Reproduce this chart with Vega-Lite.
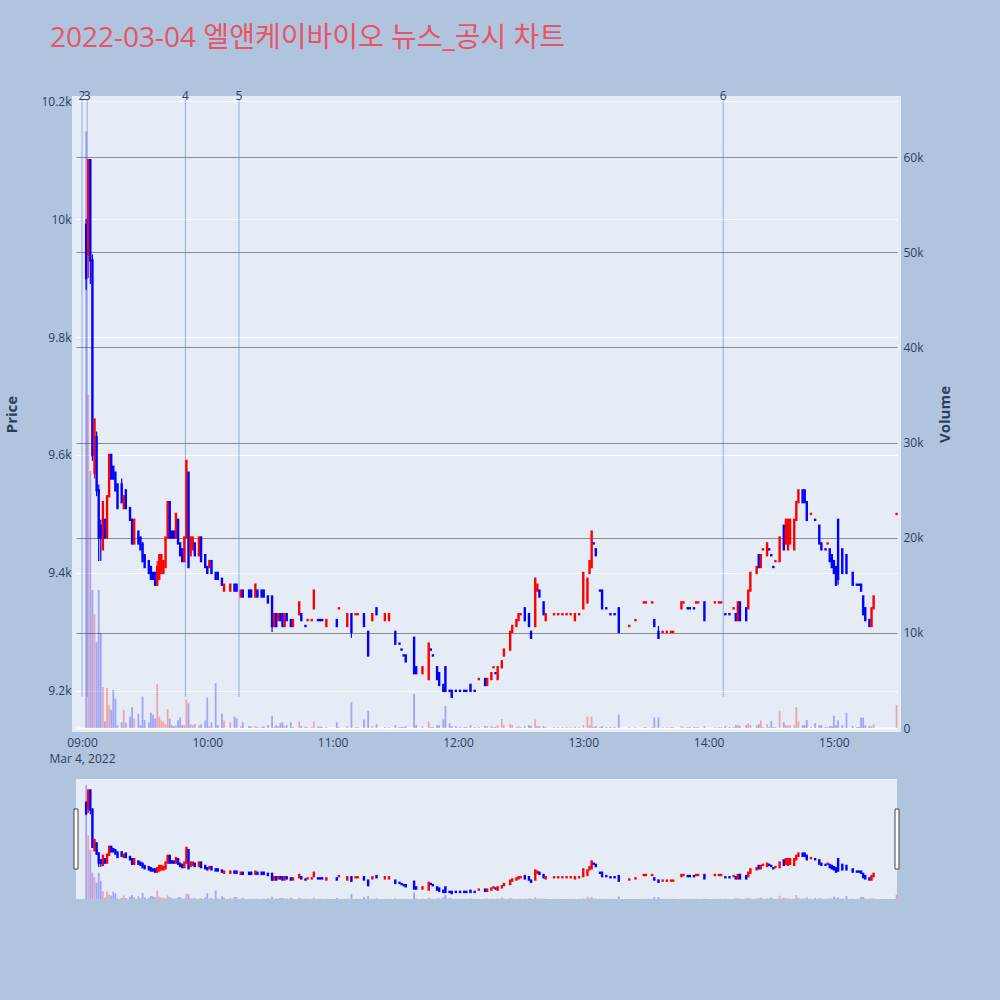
{
"$schema":"https://vega.github.io/schema/vega-lite/v6.json",
"background":"#b0c4de",
"padding":{"left":0,"top":21,"right":50,"bottom":102},
"spacing":11,
"config":{"font":"Open Sans","view":{"stroke":null},
"axis":{"labelFont":"Open Sans","labelFontSize":12,"labelColor":"#2a3f5f","titleFont":"Open Sans","titleFontSize":15,"titleFontWeight":"bold","titleColor":"#2a3f5f","domain":false,"ticks":false,"tickSize":0}},
"datasets":{
"news":[{"t":"2022-03-04T09:00:00","n":"2"},{"t":"2022-03-04T09:02:30","n":"3"},{"t":"2022-03-04T09:49:30","n":"4"},{"t":"2022-03-04T10:15:10","n":"5"},{"t":"2022-03-04T14:07:00","n":"6"}],
"k":[
{"t":"2022-03-04T09:02","d":"d","o":9990,"h":10000,"l":9880,"c":9900,"v":62700},
{"t":"2022-03-04T09:03","d":"u","o":9940,"h":10100,"l":9900,"c":10100,"v":35000},
{"t":"2022-03-04T09:04","d":"d","o":10100,"h":10100,"l":9890,"c":9930,"v":27000},
{"t":"2022-03-04T09:05","d":"d","o":9930,"h":9940,"l":9590,"c":9600,"v":14500},
{"t":"2022-03-04T09:06","d":"u","o":9570,"h":9660,"l":9560,"c":9660,"v":12000},
{"t":"2022-03-04T09:07","d":"d","o":9630,"h":9640,"l":9530,"c":9540,"v":9000},
{"t":"2022-03-04T09:08","d":"d","o":9540,"h":9550,"l":9420,"c":9460,"v":14500},
{"t":"2022-03-04T09:09","d":"d","o":9480,"h":9490,"l":9420,"c":9460,"v":10000},
{"t":"2022-03-04T09:10","d":"u","o":9440,"h":9520,"l":9440,"c":9520,"v":4300},
{"t":"2022-03-04T09:11","d":"d","o":9490,"h":9490,"l":9460,"c":9460,"v":700},
{"t":"2022-03-04T09:12","d":"u","o":9460,"h":9530,"l":9460,"c":9530,"v":4200},
{"t":"2022-03-04T09:13","d":"u","o":9530,"h":9600,"l":9530,"c":9600,"v":2400},
{"t":"2022-03-04T09:14","d":"d","o":9600,"h":9600,"l":9560,"c":9560,"v":1900},
{"t":"2022-03-04T09:15","d":"d","o":9580,"h":9580,"l":9560,"c":9560,"v":4000},
{"t":"2022-03-04T09:16","d":"d","o":9570,"h":9570,"l":9540,"c":9540,"v":3100},
{"t":"2022-03-04T09:17","d":"d","o":9550,"h":9550,"l":9510,"c":9510,"v":300},
{"t":"2022-03-04T09:19","d":"d","o":9550,"h":9560,"l":9520,"c":9520,"v":600},
{"t":"2022-03-04T09:20","d":"u","o":9510,"h":9530,"l":9510,"c":9530,"v":1900},
{"t":"2022-03-04T09:21","d":"d","o":9540,"h":9540,"l":9510,"c":9510,"v":560},
{"t":"2022-03-04T09:23","d":"d","o":9510,"h":9510,"l":9490,"c":9490,"v":1200},
{"t":"2022-03-04T09:24","d":"d","o":9490,"h":9490,"l":9450,"c":9450,"v":2200},
{"t":"2022-03-04T09:25","d":"u","o":9450,"h":9490,"l":9450,"c":9490,"v":1000},
{"t":"2022-03-04T09:27","d":"d","o":9470,"h":9470,"l":9450,"c":9450,"v":1500},
{"t":"2022-03-04T09:28","d":"d","o":9460,"h":9460,"l":9440,"c":9440,"v":300},
{"t":"2022-03-04T09:29","d":"d","o":9450,"h":9450,"l":9420,"c":9420,"v":3300},
{"t":"2022-03-04T09:30","d":"d","o":9430,"h":9430,"l":9410,"c":9410,"v":840},
{"t":"2022-03-04T09:32","d":"d","o":9420,"h":9420,"l":9400,"c":9400,"v":600},
{"t":"2022-03-04T09:33","d":"d","o":9410,"h":9410,"l":9390,"c":9390,"v":1600},
{"t":"2022-03-04T09:34","d":"d","o":9400,"h":9400,"l":9390,"c":9390,"v":1400},
{"t":"2022-03-04T09:35","d":"d","o":9400,"h":9400,"l":9380,"c":9380,"v":1000},
{"t":"2022-03-04T09:36","d":"u","o":9380,"h":9420,"l":9380,"c":9410,"v":4600},
{"t":"2022-03-04T09:37","d":"u","o":9390,"h":9430,"l":9390,"c":9430,"v":1200},
{"t":"2022-03-04T09:38","d":"u","o":9400,"h":9430,"l":9400,"c":9430,"v":800},
{"t":"2022-03-04T09:39","d":"u","o":9400,"h":9420,"l":9400,"c":9420,"v":700},
{"t":"2022-03-04T09:40","d":"u","o":9410,"h":9460,"l":9410,"c":9460,"v":400},
{"t":"2022-03-04T09:41","d":"u","o":9460,"h":9520,"l":9460,"c":9520,"v":2000},
{"t":"2022-03-04T09:42","d":"d","o":9520,"h":9520,"l":9460,"c":9460,"v":1000},
{"t":"2022-03-04T09:43","d":"d","o":9470,"h":9470,"l":9460,"c":9460,"v":300},
{"t":"2022-03-04T09:44","d":"d","o":9470,"h":9470,"l":9460,"c":9460,"v":200},
{"t":"2022-03-04T09:45","d":"u","o":9460,"h":9500,"l":9460,"c":9500,"v":300},
{"t":"2022-03-04T09:46","d":"d","o":9490,"h":9490,"l":9450,"c":9450,"v":800},
{"t":"2022-03-04T09:47","d":"d","o":9450,"h":9450,"l":9430,"c":9430,"v":1100},
{"t":"2022-03-04T09:48","d":"d","o":9440,"h":9440,"l":9420,"c":9420,"v":300},
{"t":"2022-03-04T09:49","d":"u","o":9420,"h":9460,"l":9420,"c":9460,"v":300},
{"t":"2022-03-04T09:50","d":"u","o":9460,"h":9590,"l":9460,"c":9590,"v":3000},
{"t":"2022-03-04T09:51","d":"d","o":9570,"h":9570,"l":9410,"c":9410,"v":2600},
{"t":"2022-03-04T09:52","d":"u","o":9430,"h":9460,"l":9430,"c":9460,"v":400},
{"t":"2022-03-04T09:53","d":"u","o":9440,"h":9460,"l":9440,"c":9460,"v":300},
{"t":"2022-03-04T09:54","d":"d","o":9450,"h":9450,"l":9430,"c":9430,"v":400},
{"t":"2022-03-04T09:56","d":"u","o":9430,"h":9460,"l":9430,"c":9460,"v":300},
{"t":"2022-03-04T09:57","d":"d","o":9460,"h":9460,"l":9420,"c":9420,"v":400},
{"t":"2022-03-04T09:59","d":"d","o":9430,"h":9430,"l":9410,"c":9410,"v":800},
{"t":"2022-03-04T10:00","d":"d","o":9410,"h":9410,"l":9400,"c":9400,"v":3200},
{"t":"2022-03-04T10:01","d":"u","o":9410,"h":9420,"l":9410,"c":9420,"v":200},
{"t":"2022-03-04T10:02","d":"d","o":9420,"h":9420,"l":9400,"c":9400,"v":600},
{"t":"2022-03-04T10:04","d":"d","o":9400,"h":9400,"l":9390,"c":9390,"v":4700},
{"t":"2022-03-04T10:05","d":"d","o":9400,"h":9400,"l":9390,"c":9390,"v":300},
{"t":"2022-03-04T10:07","d":"d","o":9390,"h":9390,"l":9380,"c":9380,"v":1500},
{"t":"2022-03-04T10:08","d":"u","o":9370,"h":9380,"l":9370,"c":9380,"v":800},
{"t":"2022-03-04T10:11","d":"u","o":9370,"h":9380,"l":9370,"c":9380,"v":600},
{"t":"2022-03-04T10:13","d":"d","o":9380,"h":9380,"l":9370,"c":9370,"v":1200},
{"t":"2022-03-04T10:14","d":"d","o":9380,"h":9380,"l":9370,"c":9370,"v":1000},
{"t":"2022-03-04T10:16","d":"u","o":9360,"h":9370,"l":9360,"c":9370,"v":200},
{"t":"2022-03-04T10:17","d":"d","o":9370,"h":9370,"l":9360,"c":9360,"v":600},
{"t":"2022-03-04T10:20","d":"d","o":9370,"h":9370,"l":9360,"c":9360,"v":200},
{"t":"2022-03-04T10:21","d":"d","o":9370,"h":9370,"l":9360,"c":9360,"v":150},
{"t":"2022-03-04T10:23","d":"u","o":9360,"h":9380,"l":9360,"c":9380,"v":200},
{"t":"2022-03-04T10:24","d":"d","o":9370,"h":9370,"l":9360,"c":9360,"v":100},
{"t":"2022-03-04T10:26","d":"d","o":9370,"h":9370,"l":9360,"c":9360,"v":100},
{"t":"2022-03-04T10:27","d":"d","o":9370,"h":9370,"l":9360,"c":9360,"v":200},
{"t":"2022-03-04T10:29","d":"d","o":9360,"h":9360,"l":9350,"c":9350,"v":300},
{"t":"2022-03-04T10:31","d":"d","o":9360,"h":9360,"l":9300,"c":9310,"v":1300},
{"t":"2022-03-04T10:32","d":"u","o":9310,"h":9330,"l":9310,"c":9330,"v":100},
{"t":"2022-03-04T10:33","d":"d","o":9330,"h":9330,"l":9310,"c":9310,"v":300},
{"t":"2022-03-04T10:34","d":"u","o":9320,"h":9330,"l":9320,"c":9330,"v":200},
{"t":"2022-03-04T10:35","d":"d","o":9330,"h":9330,"l":9320,"c":9320,"v":500},
{"t":"2022-03-04T10:36","d":"d","o":9330,"h":9330,"l":9310,"c":9310,"v":600},
{"t":"2022-03-04T10:37","d":"u","o":9310,"h":9330,"l":9310,"c":9330,"v":200},
{"t":"2022-03-04T10:38","d":"d","o":9330,"h":9330,"l":9320,"c":9320,"v":300},
{"t":"2022-03-04T10:40","d":"d","o":9320,"h":9320,"l":9310,"c":9310,"v":600},
{"t":"2022-03-04T10:41","d":"u","o":9310,"h":9320,"l":9310,"c":9320,"v":100},
{"t":"2022-03-04T10:44","d":"u","o":9330,"h":9350,"l":9330,"c":9350,"v":700},
{"t":"2022-03-04T10:45","d":"d","o":9330,"h":9330,"l":9320,"c":9320,"v":200},
{"t":"2022-03-04T10:47","d":"d","o":9310,"h":9310,"l":9310,"c":9310,"v":150},
{"t":"2022-03-04T10:48","d":"u","o":9320,"h":9320,"l":9320,"c":9320,"v":100},
{"t":"2022-03-04T10:50","d":"u","o":9320,"h":9320,"l":9320,"c":9320,"v":100},
{"t":"2022-03-04T10:51","d":"u","o":9340,"h":9370,"l":9340,"c":9370,"v":700},
{"t":"2022-03-04T10:53","d":"d","o":9320,"h":9320,"l":9320,"c":9320,"v":150},
{"t":"2022-03-04T10:54","d":"d","o":9320,"h":9320,"l":9320,"c":9320,"v":150},
{"t":"2022-03-04T10:55","d":"d","o":9320,"h":9320,"l":9320,"c":9320,"v":100},
{"t":"2022-03-04T10:57","d":"u","o":9310,"h":9320,"l":9310,"c":9320,"v":100},
{"t":"2022-03-04T11:02","d":"d","o":9320,"h":9320,"l":9310,"c":9310,"v":600},
{"t":"2022-03-04T11:03","d":"u","o":9340,"h":9340,"l":9340,"c":9340,"v":100},
{"t":"2022-03-04T11:07","d":"u","o":9310,"h":9330,"l":9310,"c":9330,"v":200},
{"t":"2022-03-04T11:09","d":"d","o":9330,"h":9330,"l":9290,"c":9300,"v":2700},
{"t":"2022-03-04T11:11","d":"u","o":9330,"h":9330,"l":9330,"c":9330,"v":100},
{"t":"2022-03-04T11:12","d":"u","o":9330,"h":9330,"l":9330,"c":9330,"v":100},
{"t":"2022-03-04T11:15","d":"d","o":9330,"h":9330,"l":9310,"c":9310,"v":900},
{"t":"2022-03-04T11:17","d":"d","o":9300,"h":9300,"l":9260,"c":9260,"v":1800},
{"t":"2022-03-04T11:19","d":"u","o":9320,"h":9330,"l":9320,"c":9330,"v":200},
{"t":"2022-03-04T11:21","d":"d","o":9340,"h":9340,"l":9330,"c":9330,"v":400},
{"t":"2022-03-04T11:25","d":"u","o":9320,"h":9330,"l":9320,"c":9330,"v":100},
{"t":"2022-03-04T11:27","d":"u","o":9320,"h":9330,"l":9320,"c":9330,"v":100},
{"t":"2022-03-04T11:30","d":"d","o":9300,"h":9300,"l":9280,"c":9280,"v":300},
{"t":"2022-03-04T11:32","d":"d","o":9280,"h":9280,"l":9280,"c":9280,"v":100},
{"t":"2022-03-04T11:33","d":"d","o":9270,"h":9270,"l":9270,"c":9270,"v":100},
{"t":"2022-03-04T11:34","d":"d","o":9260,"h":9260,"l":9260,"c":9260,"v":100},
{"t":"2022-03-04T11:35","d":"d","o":9260,"h":9260,"l":9250,"c":9250,"v":200},
{"t":"2022-03-04T11:39","d":"d","o":9290,"h":9290,"l":9230,"c":9230,"v":3600},
{"t":"2022-03-04T11:40","d":"d","o":9240,"h":9240,"l":9230,"c":9230,"v":300},
{"t":"2022-03-04T11:43","d":"u","o":9230,"h":9240,"l":9230,"c":9240,"v":200},
{"t":"2022-03-04T11:46","d":"u","o":9220,"h":9280,"l":9220,"c":9280,"v":700},
{"t":"2022-03-04T11:47","d":"d","o":9270,"h":9270,"l":9270,"c":9270,"v":100},
{"t":"2022-03-04T11:48","d":"d","o":9260,"h":9260,"l":9260,"c":9260,"v":100},
{"t":"2022-03-04T11:50","d":"d","o":9240,"h":9240,"l":9220,"c":9220,"v":300},
{"t":"2022-03-04T11:51","d":"d","o":9230,"h":9230,"l":9210,"c":9210,"v":300},
{"t":"2022-03-04T11:53","d":"d","o":9210,"h":9210,"l":9200,"c":9200,"v":900},
{"t":"2022-03-04T11:54","d":"d","o":9240,"h":9240,"l":9200,"c":9200,"v":2300},
{"t":"2022-03-04T11:56","d":"d","o":9200,"h":9200,"l":9200,"c":9200,"v":500},
{"t":"2022-03-04T11:57","d":"d","o":9200,"h":9200,"l":9190,"c":9190,"v":200},
{"t":"2022-03-04T11:59","d":"d","o":9200,"h":9200,"l":9200,"c":9200,"v":200},
{"t":"2022-03-04T12:01","d":"d","o":9200,"h":9200,"l":9200,"c":9200,"v":100},
{"t":"2022-03-04T12:03","d":"d","o":9200,"h":9200,"l":9200,"c":9200,"v":100},
{"t":"2022-03-04T12:04","d":"d","o":9200,"h":9200,"l":9200,"c":9200,"v":100},
{"t":"2022-03-04T12:06","d":"d","o":9210,"h":9210,"l":9200,"c":9200,"v":300},
{"t":"2022-03-04T12:08","d":"d","o":9200,"h":9200,"l":9200,"c":9200,"v":100},
{"t":"2022-03-04T12:10","d":"u","o":9220,"h":9220,"l":9220,"c":9220,"v":100},
{"t":"2022-03-04T12:13","d":"d","o":9220,"h":9220,"l":9210,"c":9210,"v":200},
{"t":"2022-03-04T12:14","d":"u","o":9210,"h":9220,"l":9210,"c":9220,"v":200},
{"t":"2022-03-04T12:16","d":"u","o":9220,"h":9230,"l":9220,"c":9230,"v":200},
{"t":"2022-03-04T12:17","d":"u","o":9240,"h":9240,"l":9240,"c":9240,"v":100},
{"t":"2022-03-04T12:18","d":"d","o":9230,"h":9230,"l":9230,"c":9230,"v":100},
{"t":"2022-03-04T12:19","d":"u","o":9220,"h":9240,"l":9220,"c":9240,"v":300},
{"t":"2022-03-04T12:21","d":"u","o":9240,"h":9250,"l":9240,"c":9250,"v":950},
{"t":"2022-03-04T12:22","d":"u","o":9260,"h":9270,"l":9260,"c":9270,"v":300},
{"t":"2022-03-04T12:25","d":"u","o":9270,"h":9300,"l":9270,"c":9300,"v":400},
{"t":"2022-03-04T12:26","d":"u","o":9300,"h":9310,"l":9300,"c":9310,"v":300},
{"t":"2022-03-04T12:28","d":"u","o":9310,"h":9320,"l":9310,"c":9320,"v":100},
{"t":"2022-03-04T12:29","d":"u","o":9320,"h":9330,"l":9320,"c":9330,"v":200},
{"t":"2022-03-04T12:30","d":"u","o":9330,"h":9330,"l":9330,"c":9330,"v":100},
{"t":"2022-03-04T12:32","d":"d","o":9340,"h":9340,"l":9320,"c":9320,"v":200},
{"t":"2022-03-04T12:34","d":"d","o":9330,"h":9330,"l":9310,"c":9310,"v":300},
{"t":"2022-03-04T12:35","d":"d","o":9300,"h":9300,"l":9290,"c":9290,"v":200},
{"t":"2022-03-04T12:37","d":"u","o":9310,"h":9390,"l":9310,"c":9390,"v":900},
{"t":"2022-03-04T12:38","d":"u","o":9370,"h":9380,"l":9370,"c":9380,"v":200},
{"t":"2022-03-04T12:39","d":"d","o":9370,"h":9370,"l":9360,"c":9360,"v":200},
{"t":"2022-03-04T12:41","d":"d","o":9350,"h":9350,"l":9330,"c":9330,"v":200},
{"t":"2022-03-04T12:42","d":"u","o":9320,"h":9330,"l":9320,"c":9330,"v":100},
{"t":"2022-03-04T12:46","d":"u","o":9330,"h":9330,"l":9330,"c":9330,"v":100},
{"t":"2022-03-04T12:48","d":"u","o":9330,"h":9330,"l":9330,"c":9330,"v":100},
{"t":"2022-03-04T12:50","d":"u","o":9330,"h":9330,"l":9330,"c":9330,"v":100},
{"t":"2022-03-04T12:52","d":"u","o":9330,"h":9330,"l":9330,"c":9330,"v":100},
{"t":"2022-03-04T12:54","d":"u","o":9330,"h":9330,"l":9330,"c":9330,"v":100},
{"t":"2022-03-04T12:56","d":"u","o":9320,"h":9330,"l":9320,"c":9330,"v":150},
{"t":"2022-03-04T12:58","d":"u","o":9330,"h":9330,"l":9330,"c":9330,"v":100},
{"t":"2022-03-04T13:00","d":"u","o":9340,"h":9400,"l":9340,"c":9400,"v":300},
{"t":"2022-03-04T13:02","d":"u","o":9350,"h":9390,"l":9350,"c":9390,"v":1200},
{"t":"2022-03-04T13:03","d":"u","o":9400,"h":9420,"l":9400,"c":9420,"v":300},
{"t":"2022-03-04T13:04","d":"u","o":9410,"h":9470,"l":9410,"c":9470,"v":1200},
{"t":"2022-03-04T13:05","d":"d","o":9450,"h":9450,"l":9450,"c":9450,"v":100},
{"t":"2022-03-04T13:06","d":"d","o":9440,"h":9440,"l":9430,"c":9430,"v":200},
{"t":"2022-03-04T13:08","d":"d","o":9370,"h":9370,"l":9370,"c":9370,"v":100},
{"t":"2022-03-04T13:09","d":"d","o":9370,"h":9370,"l":9340,"c":9340,"v":200},
{"t":"2022-03-04T13:11","d":"d","o":9340,"h":9340,"l":9340,"c":9340,"v":100},
{"t":"2022-03-04T13:13","d":"d","o":9330,"h":9330,"l":9330,"c":9330,"v":100},
{"t":"2022-03-04T13:15","d":"d","o":9330,"h":9330,"l":9330,"c":9330,"v":100},
{"t":"2022-03-04T13:17","d":"d","o":9340,"h":9340,"l":9300,"c":9300,"v":1400},
{"t":"2022-03-04T13:22","d":"u","o":9310,"h":9310,"l":9310,"c":9310,"v":100},
{"t":"2022-03-04T13:25","d":"u","o":9320,"h":9320,"l":9320,"c":9320,"v":100},
{"t":"2022-03-04T13:29","d":"u","o":9350,"h":9350,"l":9350,"c":9350,"v":100},
{"t":"2022-03-04T13:30","d":"u","o":9350,"h":9350,"l":9350,"c":9350,"v":100},
{"t":"2022-03-04T13:33","d":"u","o":9350,"h":9350,"l":9350,"c":9350,"v":100},
{"t":"2022-03-04T13:34","d":"d","o":9320,"h":9320,"l":9310,"c":9310,"v":1100},
{"t":"2022-03-04T13:36","d":"d","o":9300,"h":9310,"l":9290,"c":9290,"v":1100},
{"t":"2022-03-04T13:38","d":"u","o":9300,"h":9300,"l":9300,"c":9300,"v":100},
{"t":"2022-03-04T13:40","d":"u","o":9300,"h":9300,"l":9300,"c":9300,"v":100},
{"t":"2022-03-04T13:42","d":"u","o":9300,"h":9300,"l":9300,"c":9300,"v":100},
{"t":"2022-03-04T13:43","d":"u","o":9300,"h":9300,"l":9300,"c":9300,"v":100},
{"t":"2022-03-04T13:47","d":"u","o":9340,"h":9350,"l":9340,"c":9350,"v":200},
{"t":"2022-03-04T13:48","d":"u","o":9350,"h":9350,"l":9350,"c":9350,"v":100},
{"t":"2022-03-04T13:50","d":"d","o":9340,"h":9340,"l":9340,"c":9340,"v":100},
{"t":"2022-03-04T13:51","d":"d","o":9340,"h":9340,"l":9340,"c":9340,"v":100},
{"t":"2022-03-04T13:53","d":"d","o":9340,"h":9340,"l":9340,"c":9340,"v":100},
{"t":"2022-03-04T13:54","d":"u","o":9350,"h":9350,"l":9350,"c":9350,"v":100},
{"t":"2022-03-04T13:55","d":"u","o":9350,"h":9350,"l":9350,"c":9350,"v":100},
{"t":"2022-03-04T13:58","d":"d","o":9350,"h":9350,"l":9320,"c":9320,"v":200},
{"t":"2022-03-04T14:03","d":"u","o":9350,"h":9350,"l":9350,"c":9350,"v":100},
{"t":"2022-03-04T14:05","d":"u","o":9350,"h":9350,"l":9350,"c":9350,"v":100},
{"t":"2022-03-04T14:06","d":"u","o":9350,"h":9350,"l":9350,"c":9350,"v":100},
{"t":"2022-03-04T14:08","d":"d","o":9330,"h":9330,"l":9330,"c":9330,"v":200},
{"t":"2022-03-04T14:10","d":"d","o":9330,"h":9330,"l":9330,"c":9330,"v":100},
{"t":"2022-03-04T14:12","d":"u","o":9340,"h":9340,"l":9340,"c":9340,"v":100},
{"t":"2022-03-04T14:13","d":"d","o":9330,"h":9330,"l":9320,"c":9320,"v":300},
{"t":"2022-03-04T14:14","d":"u","o":9320,"h":9350,"l":9320,"c":9350,"v":300},
{"t":"2022-03-04T14:15","d":"d","o":9350,"h":9350,"l":9320,"c":9320,"v":200},
{"t":"2022-03-04T14:18","d":"d","o":9340,"h":9340,"l":9320,"c":9320,"v":300},
{"t":"2022-03-04T14:19","d":"u","o":9340,"h":9370,"l":9340,"c":9370,"v":500},
{"t":"2022-03-04T14:20","d":"u","o":9370,"h":9400,"l":9370,"c":9400,"v":300},
{"t":"2022-03-04T14:23","d":"u","o":9400,"h":9410,"l":9400,"c":9410,"v":300},
{"t":"2022-03-04T14:24","d":"d","o":9430,"h":9430,"l":9410,"c":9410,"v":400},
{"t":"2022-03-04T14:25","d":"u","o":9410,"h":9430,"l":9410,"c":9430,"v":800},
{"t":"2022-03-04T14:26","d":"u","o":9440,"h":9440,"l":9440,"c":9440,"v":100},
{"t":"2022-03-04T14:28","d":"u","o":9430,"h":9450,"l":9430,"c":9450,"v":400},
{"t":"2022-03-04T14:29","d":"d","o":9440,"h":9440,"l":9440,"c":9440,"v":100},
{"t":"2022-03-04T14:30","d":"d","o":9430,"h":9430,"l":9430,"c":9430,"v":750},
{"t":"2022-03-04T14:31","d":"d","o":9410,"h":9410,"l":9410,"c":9410,"v":100},
{"t":"2022-03-04T14:32","d":"u","o":9420,"h":9420,"l":9420,"c":9420,"v":100},
{"t":"2022-03-04T14:34","d":"u","o":9420,"h":9460,"l":9420,"c":9460,"v":1800},
{"t":"2022-03-04T14:36","d":"d","o":9480,"h":9480,"l":9440,"c":9440,"v":600},
{"t":"2022-03-04T14:37","d":"u","o":9450,"h":9490,"l":9450,"c":9490,"v":300},
{"t":"2022-03-04T14:38","d":"u","o":9440,"h":9490,"l":9440,"c":9490,"v":300},
{"t":"2022-03-04T14:39","d":"u","o":9450,"h":9490,"l":9450,"c":9490,"v":300},
{"t":"2022-03-04T14:41","d":"u","o":9440,"h":9490,"l":9440,"c":9490,"v":300},
{"t":"2022-03-04T14:42","d":"u","o":9490,"h":9520,"l":9490,"c":9520,"v":2200},
{"t":"2022-03-04T14:43","d":"u","o":9520,"h":9540,"l":9520,"c":9540,"v":700},
{"t":"2022-03-04T14:45","d":"d","o":9540,"h":9540,"l":9520,"c":9520,"v":300},
{"t":"2022-03-04T14:46","d":"d","o":9540,"h":9540,"l":9520,"c":9520,"v":300},
{"t":"2022-03-04T14:47","d":"d","o":9520,"h":9520,"l":9490,"c":9490,"v":850},
{"t":"2022-03-04T14:49","d":"u","o":9500,"h":9500,"l":9500,"c":9500,"v":100},
{"t":"2022-03-04T14:51","d":"d","o":9490,"h":9490,"l":9490,"c":9490,"v":500},
{"t":"2022-03-04T14:53","d":"d","o":9480,"h":9480,"l":9450,"c":9450,"v":300},
{"t":"2022-03-04T14:54","d":"d","o":9450,"h":9450,"l":9440,"c":9440,"v":300},
{"t":"2022-03-04T14:56","d":"d","o":9440,"h":9440,"l":9440,"c":9440,"v":100},
{"t":"2022-03-04T14:57","d":"u","o":9450,"h":9450,"l":9450,"c":9450,"v":100},
{"t":"2022-03-04T14:58","d":"d","o":9440,"h":9440,"l":9420,"c":9420,"v":200},
{"t":"2022-03-04T14:59","d":"d","o":9430,"h":9430,"l":9410,"c":9410,"v":200},
{"t":"2022-03-04T15:00","d":"d","o":9420,"h":9420,"l":9400,"c":9400,"v":1300},
{"t":"2022-03-04T15:01","d":"d","o":9410,"h":9410,"l":9380,"c":9380,"v":300},
{"t":"2022-03-04T15:02","d":"d","o":9490,"h":9490,"l":9380,"c":9390,"v":800},
{"t":"2022-03-04T15:04","d":"d","o":9440,"h":9440,"l":9400,"c":9400,"v":300},
{"t":"2022-03-04T15:06","d":"d","o":9430,"h":9430,"l":9400,"c":9400,"v":1600},
{"t":"2022-03-04T15:09","d":"d","o":9400,"h":9400,"l":9380,"c":9380,"v":200},
{"t":"2022-03-04T15:11","d":"d","o":9380,"h":9380,"l":9380,"c":9380,"v":100},
{"t":"2022-03-04T15:12","d":"d","o":9380,"h":9380,"l":9380,"c":9380,"v":100},
{"t":"2022-03-04T15:13","d":"d","o":9380,"h":9380,"l":9370,"c":9370,"v":1100},
{"t":"2022-03-04T15:14","d":"d","o":9360,"h":9360,"l":9330,"c":9330,"v":1100},
{"t":"2022-03-04T15:15","d":"d","o":9340,"h":9340,"l":9320,"c":9320,"v":300},
{"t":"2022-03-04T15:17","d":"d","o":9320,"h":9320,"l":9310,"c":9310,"v":200},
{"t":"2022-03-04T15:18","d":"u","o":9310,"h":9340,"l":9310,"c":9340,"v":200},
{"t":"2022-03-04T15:19","d":"u","o":9340,"h":9360,"l":9340,"c":9360,"v":400},
{"t":"2022-03-04T15:30","d":"u","o":9500,"h":9500,"l":9500,"c":9500,"v":2400}
]},
"vconcat":[
{
"width":821,"height":628,
"view":{"fill":"#e5ecf6","stroke":"#e5ecf6","strokeWidth":8},
"title":{"text":"2022-03-04 엘앤케이바이오 뉴스_공시 차트","anchor":"start","frame":"group","dx":-26,"offset":15,"baseline":"alphabetic","fontSize":28,"font":"Open Sans, Noto Sans CJK KR","fontWeight":"normal","color":"#e85366"},
"layer":[
{"data":{"name":"k"},
 "mark":{"type":"bar","size":1.8,"opacity":0.3},
 "encoding":{
  "x":{"field":"t","type":"temporal","scale":{"padding":0,"domain":[{"year":2022,"month":3,"date":4,"hours":8,"minutes":57,"seconds":8},{"year":2022,"month":3,"date":4,"hours":15,"minutes":30,"seconds":12}]},
   "axis":{"title":null,"grid":false,"labelPadding":9,"labelLineHeight":16,"labelOverlap":false,"labelFlush":false,
   "values":[{"year":2022,"month":3,"date":4,"hours":9},{"year":2022,"month":3,"date":4,"hours":10},{"year":2022,"month":3,"date":4,"hours":11},{"year":2022,"month":3,"date":4,"hours":12},{"year":2022,"month":3,"date":4,"hours":13},{"year":2022,"month":3,"date":4,"hours":14},{"year":2022,"month":3,"date":4,"hours":15}],
   "labelExpr":"hours(datum.value) == 9 ? [timeFormat(datum.value, '%H:%M'), 'Mar 4, 2022'] : timeFormat(datum.value, '%H:%M')"}},
  "y":{"field":"v","type":"quantitative","scale":{"domain":[0,66000],"nice":false,"zero":false},
   "axis":{"orient":"right","title":"Volume","values":[0,10000,20000,30000,40000,50000,60000],"labelExpr":"datum.value == 0 ? '0' : (datum.value / 1000) + 'k'","grid":true,
    "gridColor":{"condition":{"test":"datum.value === 0","value":"#ffffff"},"value":"#8c8c8c"},
    "gridWidth":{"condition":{"test":"datum.value === 0","value":2},"value":1},
    "labelPadding":6,"minExtent":30,"maxExtent":30,"titlePadding":10,"titleAngle":270,"titleBaseline":"top"}},
  "color":{"field":"d","type":"nominal","scale":{"domain":["u","d"],"range":["#ff0000","#0000ff"]},"legend":null}
 }},
{"layer":[
 {"data":{"name":"news"},
  "mark":{"type":"rule","stroke":"#4169e1","strokeOpacity":0.5,"strokeWidth":1},
  "encoding":{"x":{"field":"t","type":"temporal"},
   "y":{"datum":9190,"type":"quantitative","scale":{"domain":[9137,10202],"nice":false,"zero":false},
    "axis":{"orient":"left","title":"Price","values":[9200,9400,9600,9800,10000,10200],"labelExpr":"(datum.value / 1000) + 'k'","grid":true,"gridColor":"#ffffff","gridWidth":1,"labelPadding":5,"minExtent":40,"maxExtent":40,"titlePadding":17}},
   "y2":{"datum":10202}}},
 {"data":{"name":"news"},
  "mark":{"type":"text","baseline":"alphabetic","fontSize":12,"font":"Open Sans","color":"#2a3f5f"},
  "encoding":{"x":{"field":"t","type":"temporal"},"y":{"datum":10202,"type":"quantitative"},"text":{"field":"n"}}},
 {"data":{"name":"k"},
  "mark":{"type":"rule","strokeWidth":1.2},
  "encoding":{"x":{"field":"t","type":"temporal"},"y":{"field":"l","type":"quantitative"},"y2":{"field":"h"},
   "color":{"field":"d","type":"nominal","scale":{"domain":["u","d"],"range":["#ff0000","#0000ff"]},"legend":null}}},
 {"data":{"name":"k"},
  "mark":{"type":"rule","strokeWidth":2.4,"strokeCap":"square"},
  "encoding":{"x":{"field":"t","type":"temporal"},"y":{"field":"o","type":"quantitative"},"y2":{"field":"c"},
   "color":{"field":"d","type":"nominal","scale":{"domain":["u","d"],"range":["#ff0000","#0000ff"]},"legend":null}}}
]}
],
"resolve":{"scale":{"y":"independent"}}
},
{
"width":821,"height":120,
"view":{"fill":"#e5ecf6","stroke":null},
"layer":[
{"data":{"name":"k"},
 "mark":{"type":"bar","size":1.8,"opacity":0.3},
 "encoding":{
  "x":{"field":"t","type":"temporal","scale":{"padding":0,"domain":[{"year":2022,"month":3,"date":4,"hours":8,"minutes":57,"seconds":8},{"year":2022,"month":3,"date":4,"hours":15,"minutes":30,"seconds":12}]},"axis":null},
  "y":{"field":"v","type":"quantitative","scale":{"domain":[0,66000],"nice":false,"zero":false},"axis":null},
  "color":{"field":"d","type":"nominal","scale":{"domain":["u","d"],"range":["#ff0000","#0000ff"]},"legend":null}
 }},
{"layer":[
 {"data":{"name":"k"},
  "mark":{"type":"rule","strokeWidth":1.2},
  "encoding":{"x":{"field":"t","type":"temporal"},
   "y":{"field":"l","type":"quantitative","scale":{"domain":[9137,10202],"nice":false,"zero":false},"axis":null},
   "y2":{"field":"h"},
   "color":{"field":"d","type":"nominal","scale":{"domain":["u","d"],"range":["#ff0000","#0000ff"]},"legend":null}}},
 {"data":{"name":"k"},
  "mark":{"type":"rule","strokeWidth":2.4,"strokeCap":"square"},
  "encoding":{"x":{"field":"t","type":"temporal"},"y":{"field":"o","type":"quantitative"},"y2":{"field":"c"},
   "color":{"field":"d","type":"nominal","scale":{"domain":["u","d"],"range":["#ff0000","#0000ff"]},"legend":null}}},
 {"data":{"values":[{}]},
  "mark":{"type":"tick","orient":"vertical","size":60,"thickness":4,"fill":"#ffffff","stroke":"#444444","strokeWidth":1,"opacity":1},
  "encoding":{"x":{"datum":{"year":2022,"month":3,"date":4,"hours":8,"minutes":57,"seconds":8},"type":"temporal"},"y":{"datum":9669.5,"type":"quantitative"}}},
 {"data":{"values":[{}]},
  "mark":{"type":"tick","orient":"vertical","size":60,"thickness":4,"fill":"#ffffff","stroke":"#444444","strokeWidth":1,"opacity":1},
  "encoding":{"x":{"datum":{"year":2022,"month":3,"date":4,"hours":15,"minutes":30,"seconds":12},"type":"temporal"},"y":{"datum":9669.5,"type":"quantitative"}}}
]}
],
"resolve":{"scale":{"y":"independent"}}
}
]
}
